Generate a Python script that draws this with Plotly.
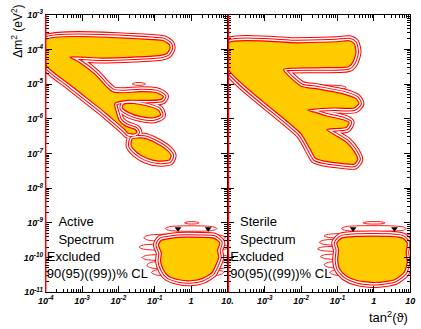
import numpy as np
import plotly.graph_objects as go

# values are log10(tan^2 theta) and log10(dm^2 / eV^2)

# --- Active panel, 90% CL regions ---
act_main_lt = [-4.0, -1.03, -0.76, -0.60, -0.58, -0.66, -0.84, -1.57, -2.45, -3.33, -3.09, -2.64,
               -2.32, -2.155, -1.91, -1.38, -0.95, -0.76, -0.82, -1.22, -1.75, -2.10, -2.05, -1.97,
               -1.78, -1.54, -1.49, -1.57, -1.73, -1.83, -2.26, -2.45, -3.36, -4.0]
act_main_ldm = [-3.72, -3.72, -3.75, -3.86, -3.97, -4.11, -4.17, -4.22, -4.25, -4.22, -4.36, -4.72,
                -5.08, -5.22, -5.25, -5.22, -5.25, -5.36, -5.44, -5.47, -5.47, -5.56, -5.83, -6.06,
                -6.22, -6.31, -6.39, -6.44, -6.42, -6.31, -5.92, -5.75, -5.0, -4.44]
act_b_lt = [-1.86, -1.57, -1.17, -0.90, -0.84, -1.03, -1.38, -1.70, -1.89]
act_b_ldm = [-5.58, -5.56, -5.64, -5.75, -5.89, -5.97, -5.94, -5.83, -5.69]
act_c_lt = [-1.62, -1.30, -0.98, -0.68, -0.55, -0.60, -0.90, -1.22, -1.49, -1.65]
act_c_ldm = [-6.58, -6.56, -6.69, -6.89, -7.06, -7.19, -7.22, -7.14, -6.97, -6.78]
act_vac_lt = [-0.68, -0.36, 0.30, 0.63, 0.79, 0.73, 0.76, 0.68, 0.57, 0.30, -0.02, -0.34,
              -0.63, -0.76, -0.84, -0.82, -0.90, -0.82]
act_vac_ldm = [-9.47, -9.42, -9.42, -9.44, -9.58, -9.78, -10.0, -10.22, -10.44, -10.61, -10.67,
               -10.64, -10.53, -10.36, -10.11, -9.86, -9.64, -9.50]
# 95/99% tongues (left end, right end, top, bottom)
act_fing_l = [-0.18, -0.71, -1.30, -1.43, -1.35, -1.22, -1.09, -1.62]
act_fing_r = [0.22, 0.71, 0.95, 1.05, 1.05, 1.05, 0.90, -1.25]
act_fing_t = [-8.97, -9.11, -9.36, -9.64, -9.94, -10.14, -10.36, -4.96]
act_fing_b = [-9.03, -9.22, -9.50, -9.76, -10.06, -10.30, -10.50, -5.03]
act_best_lt = [-0.36, 0.47]
act_best_ldm = [-9.17, -9.17]

# --- Sterile panel ---
ste_main_lt = [-4.0, -2.09, -1.02, -0.68, -0.54, -0.49, -0.57, -0.70, -1.55, -2.48, -2.0, -1.55,
               -0.84, -0.49, -0.41, -0.54, -1.10, -1.63, -1.82, -1.63, -1.29, -0.84, -0.68, -0.76,
               -1.02, -1.29, -0.76, -0.54, -0.44, -0.54, -0.68, -1.37, -1.61, -1.69, -2.0, -4.0]
ste_main_ldm = [-3.81, -3.81, -3.78, -3.75, -3.83, -4.08, -4.36, -4.50, -4.53, -4.58, -5.06, -5.14,
                -5.28, -5.42, -5.56, -5.69, -5.69, -5.72, -5.75, -5.81, -5.92, -6.03, -6.11, -6.25,
                -6.28, -6.31, -6.67, -6.94, -7.17, -7.31, -7.31, -7.22, -7.14, -7.0, -6.44, -4.58]
ste_vac_lt = [-0.89, -0.49, 0.44, 0.79, 0.92, 0.89, 0.92, 0.84, 0.57, 0.04, -0.44, -0.76,
              -0.94, -0.995, -0.97, -1.02]
ste_vac_ldm = [-9.44, -9.39, -9.39, -9.44, -9.58, -9.86, -10.14, -10.42, -10.64, -10.72, -10.67,
               -10.53, -10.33, -10.06, -9.78, -9.58]
ste_fing_l = [-0.30, -0.89, -1.37, -1.50, -1.55, -1.47, -1.37, -1.21, -1.95]
ste_fing_r = [0.31, 0.89, 1.05, 1.05, 1.05, 1.05, 1.05, 0.90, -0.76]
ste_fing_t = [-8.97, -9.11, -9.33, -9.50, -9.70, -9.92, -10.14, -10.36, -5.05]
ste_fing_b = [-9.03, -9.22, -9.42, -9.62, -9.80, -10.03, -10.28, -10.50, -5.15]
ste_best_lt = [-0.57, 0.57]
ste_best_ldm = [-9.17, -9.17]

x_major = [1e-4, 1e-3, 1e-2, 1e-1, 1, 10]
x_left_text = ["10<sup>-4</sup>", "10<sup>-3</sup>", "10<sup>-2</sup>", "10<sup>-1</sup>", "1", "10."]
x_right_text = ["", "10<sup>-3</sup>", "10<sup>-2</sup>", "10<sup>-1</sup>", "1", "10"]
y_major = [10.0 ** k for k in range(-11, -2)]
y_text = ["10<sup>%d</sup>" % k for k in range(-11, -2)]

RED = "#ff0000"
YEL = "#ffcc00"
FONT = "Liberation Sans"


def pts(lt, ldm):
    lt = list(lt) + [lt[0]]
    ldm = list(ldm) + [ldm[0]]
    return 10 ** np.array(lt), 10 ** np.array(ldm)


def tongue(l, r, t, b):
    m = (t + b) / 2
    d = min(0.12, (r - l) / 4)
    return [l, l + d, r - d, r, r - d, l + d], [m, t, t, m, b, b]


fig = go.Figure()

panels = [
    dict(xa="x", ya="y",
         regions=[(act_main_lt, act_main_ldm), (act_b_lt, act_b_ldm), (act_c_lt, act_c_ldm),
                  (act_vac_lt, act_vac_ldm)],
         fing=(act_fing_l, act_fing_r, act_fing_t, act_fing_b),
         best=(act_best_lt, act_best_ldm),
         words=["Active", "Spectrum", "Excluded", "90(95)((99))% CL"]),
    dict(xa="x2", ya="y2",
         regions=[(ste_main_lt, ste_main_ldm), (ste_vac_lt, ste_vac_ldm)],
         fing=(ste_fing_l, ste_fing_r, ste_fing_t, ste_fing_b),
         best=(ste_best_lt, ste_best_ldm),
         words=["Sterile", "Spectrum", "Excluded", "90(95)((99))% CL"]),
]

for p in panels:
    xa, ya = p["xa"], p["ya"]
    # labels sit under the contours
    lx0 = -3.97 if xa == "x" else -3.95
    lx1 = -3.65 if xa == "x" else -3.68
    fig.add_trace(go.Scatter(
        x=10 ** np.array([lx1, lx1, lx0, lx0]), y=10 ** np.array([-9.0, -9.52, -10.0, -10.5]),
        text=p["words"], mode="text", textposition="middle right",
        textfont=dict(family=FONT, size=13, color="black"),
        xaxis=xa, yaxis=ya, showlegend=False, hoverinfo="skip"))
    for l, r, t, b in zip(*p["fing"]):
        fx, fy = tongue(l, r, t, b)
        x, y = pts(fx, fy)
        fig.add_trace(go.Scatter(x=x, y=y, mode="lines", fill="toself", fillcolor="white",
                                 line=dict(color=RED, width=0.9, shape="spline", smoothing=0.8),
                                 xaxis=xa, yaxis=ya, showlegend=False, hoverinfo="skip"))
    # 99% and 95% rings, then the 90% fill
    for col, w in [(RED, 11), ("white", 9), (RED, 6), ("white", 4)]:
        for lt, ldm in p["regions"]:
            x, y = pts(lt, ldm)
            fig.add_trace(go.Scatter(x=x, y=y, mode="lines",
                                     line=dict(color=col, width=w, shape="spline", smoothing=0.6),
                                     xaxis=xa, yaxis=ya, showlegend=False, hoverinfo="skip"))
    for lt, ldm in p["regions"]:
        x, y = pts(lt, ldm)
        fig.add_trace(go.Scatter(x=x, y=y, mode="lines", fill="toself", fillcolor=YEL,
                                 line=dict(color=RED, width=1.2, shape="spline", smoothing=0.6),
                                 xaxis=xa, yaxis=ya, showlegend=False, hoverinfo="skip"))
    bx, by = p["best"]
    fig.add_trace(go.Scatter(x=10 ** np.array(bx), y=10 ** np.array(by), mode="markers",
                             marker=dict(symbol="triangle-down", size=6, color="black"),
                             xaxis=xa, yaxis=ya, showlegend=False, hoverinfo="skip"))

x_minor = [m * 10.0 ** k for k in range(-4, 1) for m in range(2, 10)]
y_minor = [m * 10.0 ** k for k in range(-11, -3) for m in range(2, 10)]

common_x = dict(type="log", range=[-4, 1], showgrid=False, zeroline=False, showline=True,
                linecolor="black", linewidth=1, mirror="ticks", ticks="inside", ticklen=6,
                tickcolor="black", tickvals=x_major,
                tickfont=dict(family=FONT, size=9, color="black"),
                minor=dict(tickvals=x_minor, ticks="inside", ticklen=3, tickcolor="black"))
common_y = dict(type="log", range=[-11, -3], domain=[33 / 329, 321 / 329], showgrid=False,
                zeroline=False, showline=True, linecolor="black", linewidth=1, mirror="ticks",
                ticks="inside", ticklen=6, tickcolor="black", tickvals=y_major,
                tickfont=dict(family=FONT, size=9, color="black"),
                minor=dict(tickvals=y_minor, ticks="inside", ticklen=3, tickcolor="black"))

fig.update_layout(
    width=421, height=329, margin=dict(l=0, r=0, t=0, b=0),
    paper_bgcolor="white", plot_bgcolor="white",
    xaxis=dict(common_x, domain=[39 / 421, 227 / 421], anchor="y",
               ticktext=["<b><i>%s</i></b>" % t for t in x_left_text]),
    xaxis2=dict(common_x, domain=[228 / 421, 416 / 421], anchor="y2",
                ticktext=["<b><i>%s</i></b>" % t for t in x_right_text]),
    yaxis=dict(common_y, anchor="x", ticktext=["<b><i>%s</i></b>" % t for t in y_text]),
    yaxis2=dict(common_y, anchor="x2", showticklabels=False),
    shapes=[
        dict(type="line", xref="x domain", yref="y domain", x0=0, x1=0, y0=0, y1=1,
             line=dict(color=RED, width=1.5)),
        dict(type="line", xref="x2 domain", yref="y2 domain", x0=0, x1=0, y0=0, y1=1,
             line=dict(color=RED, width=1.5)),
    ],
    annotations=[
        dict(text="Δm<sup>2</sup> (eV<sup>2</sup>)", xref="paper", yref="paper",
             x=9 / 421, y=1 - 25 / 329, xanchor="center", yanchor="middle",
             textangle=-90, showarrow=False,
             font=dict(family=FONT, size=12, color="black")),
        dict(text="tan<sup>2</sup>(ϑ)", xref="paper", yref="paper",
             x=416 / 421, y=1 - 322 / 329, xanchor="right", yanchor="middle", showarrow=False,
             font=dict(family=FONT, size=13, color="black")),
    ],
)

# the page body has a default 8px margin; drop it so the figure sits at the window corner
fig.write_html("out.html", config={"displayModeBar": False},
               post_script="document.body.style.margin='0px';")
